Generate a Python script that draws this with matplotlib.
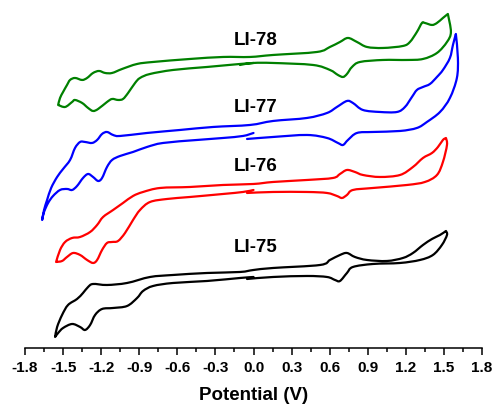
import numpy as np
import matplotlib
matplotlib.use("Agg")
import matplotlib.pyplot as plt
from matplotlib.path import Path
from matplotlib.patches import PathPatch
from matplotlib.ticker import MultipleLocator, FormatStrFormatter

plt.rcParams['font.family'] = ['Liberation Sans', 'DejaVu Sans']
plt.rcParams['font.weight'] = 'bold'

# cyclic voltammograms, current in arbitrary units relative to the 0 V level
# each scan: lower branch to the positive end, back along the upper branch,
# then the lower branch from the negative end back to 0 V

# LI-78
E78 = [-0.106, 0.0, 0.154, 0.469, 0.602, 0.665, 0.705, 0.736, 0.776, 0.839, 1.020, 1.209, 1.335, 1.445, 1.524, 1.555, 1.531,
       1.492, 1.445, 1.406, 1.350, 1.327, 1.287, 1.232, 1.177, 1.020, 0.894, 0.815, 0.744, 0.681, 0.602, 0.500, 0.154, -0.028,
       -0.240, -0.500, -0.791, -0.917, -1.035, -1.114, -1.169, -1.217, -1.264, -1.311, -1.350, -1.406, -1.445, -1.469, -1.500,
       -1.524, -1.539,
       -1.484, -1.429, -1.406, -1.350, -1.303, -1.264, -1.224, -1.154, -1.114, -1.067, -1.028, -0.988, -0.933, -0.894, -0.815,
       -0.634, -0.366, -0.106, 0.0]
I78 = [-0.2, 0.0, 0.0, -0.2, -0.7, -1.2, -1.4, -1.1, -0.4, 0.1, 0.3, 0.3, 0.4, 1.0, 2.1, 3.1, 4.9,
       4.5, 4.0, 3.8, 4.0, 4.0, 3.1, 2.1, 1.7, 1.5, 1.6, 2.1, 2.5, 2.1, 1.6, 1.1, 0.8, 0.6,
       0.6, 0.4, 0.1, -0.1, -0.6, -1.0, -1.0, -0.8, -1.0, -1.5, -1.7, -1.5, -1.7, -2.2, -2.9,
       -3.5, -4.2,
       -4.4, -3.9, -3.7, -4.0, -4.5, -4.8, -4.6, -3.9, -3.6, -3.7, -3.6, -3.0, -2.0, -1.5, -1.1,
       -0.7, -0.4, -0.1, 0.0]

# LI-77
E77 = [-0.051, 0.154, 0.421, 0.579, 0.665, 0.705, 0.744, 0.815, 0.941, 1.154, 1.287, 1.366, 1.469, 1.547, 1.602, 1.610, 1.594,
       1.571, 1.547, 1.492, 1.445, 1.390, 1.335, 1.287, 1.248, 1.193, 1.130, 0.996, 0.862, 0.783, 0.736, 0.657, 0.579, 0.421,
       0.154, -0.028, -0.319, -0.579, -0.839, -1.051, -1.106, -1.154, -1.193, -1.232, -1.272, -1.327, -1.366, -1.406, -1.445,
       -1.500, -1.547, -1.594, -1.626, -1.650, -1.665,
       -1.650, -1.618, -1.579, -1.524, -1.469, -1.429, -1.390, -1.343, -1.303, -1.264, -1.224, -1.193, -1.154, -1.114, -1.051,
       -0.949, -0.839, -0.713, -0.445, -0.240, -0.083, 0.0]
I77 = [-0.4, -0.2, 0.0, -0.3, -0.8, -1.0, -0.5, 0.2, 0.3, 0.4, 0.7, 1.3, 2.3, 3.7, 5.7, 7.7, 10.1,
       9.0, 7.7, 6.5, 5.8, 5.1, 4.8, 4.5, 3.8, 2.8, 2.3, 2.3, 2.5, 3.2, 3.4, 2.8, 2.2, 1.7,
       1.4, 1.0, 0.8, 0.5, 0.2, -0.1, 0.0, 0.3, 0.1, -0.5, -0.8, -0.7, -0.7, -1.3, -2.5,
       -3.4, -4.2, -5.3, -6.5, -7.5, -8.5,
       -7.7, -6.8, -6.1, -5.5, -5.4, -5.5, -5.1, -4.3, -3.9, -4.2, -4.6, -4.3, -3.2, -2.5, -2.1,
       -1.7, -1.2, -0.8, -0.5, -0.3, -0.1, 0.2]

# LI-76
E76 = [-0.051, 0.154, 0.421, 0.579, 0.657, 0.697, 0.736, 0.783, 0.941, 1.209, 1.350, 1.445, 1.492, 1.524, 1.516,
       1.492, 1.453, 1.406, 1.335, 1.256, 1.154, 0.996, 0.862, 0.799, 0.736, 0.681, 0.626, 0.421, 0.154, 0.0,
       -0.240, -0.500, -0.736, -0.870, -0.949, -1.028, -1.106, -1.185, -1.232, -1.287, -1.366, -1.429, -1.484, -1.524, -1.555,
       -1.508, -1.469, -1.421, -1.366, -1.311, -1.264, -1.232, -1.193, -1.154, -1.114, -1.067, -1.012, -0.949, -0.894, -0.815,
       -0.681, -0.500, -0.240, -0.083, 0.0]
I76 = [-0.3, -0.2, -0.2, -0.3, -0.6, -0.8, -0.5, 0.0, 0.2, 0.5, 0.8, 1.5, 2.8, 4.5, 5.2,
       5.0, 4.3, 3.7, 3.2, 2.3, 1.5, 1.3, 1.5, 1.8, 2.0, 1.6, 1.2, 1.0, 0.8, 0.6,
       0.5, 0.3, 0.2, -0.2, -0.6, -1.3, -2.0, -2.7, -3.5, -4.2, -4.7, -4.8, -5.2, -6.0, -7.2,
       -7.1, -6.7, -6.3, -6.5, -7.0, -7.3, -7.0, -6.0, -5.3, -5.2, -5.1, -4.3, -3.0, -2.0, -1.2,
       -0.9, -0.7, -0.4, -0.2, 0.0]

# LI-75
E75 = [-0.051, 0.154, 0.421, 0.579, 0.642, 0.681, 0.736, 0.783, 0.941, 1.154, 1.311, 1.413, 1.484, 1.524, 1.516,
       1.469, 1.406, 1.335, 1.256, 1.177, 1.051, 0.894, 0.799, 0.736, 0.681, 0.602, 0.524, 0.154, 0.0, -0.106,
       -0.366, -0.634, -0.815, -0.996, -1.154, -1.264, -1.303, -1.343, -1.390, -1.461, -1.508, -1.547, -1.563,
       -1.539, -1.500, -1.429, -1.366, -1.327, -1.287, -1.248, -1.193, -1.106, -0.996, -0.917, -0.870, -0.791, -0.634,
       -0.366, -0.106, 0.0]
I75 = [-0.2, 0.0, 0.1, 0.0, -0.3, -0.4, 0.4, 1.0, 1.3, 1.4, 1.7, 2.2, 3.2, 4.2, 4.6,
       4.2, 3.8, 3.2, 2.4, 1.9, 1.6, 1.7, 2.0, 2.4, 2.2, 1.7, 1.2, 0.9, 0.7, 0.5,
       0.4, 0.2, 0.0, -0.6, -0.8, -0.7, -1.0, -1.6, -2.2, -2.8, -3.8, -5.0, -6.0,
       -5.6, -5.1, -4.7, -5.0, -5.3, -4.8, -3.8, -3.2, -3.1, -2.9, -2.1, -1.4, -0.9, -0.6,
       -0.4, -0.1, 0.0]

names = ['LI-78', 'LI-77', 'LI-76', 'LI-75']
potentials = [E78, E77, E76, E75]
currents = [I78, I77, I76, I75]
offsets = [28.5, 21.3, 15.8, 7.1]
colors = ['#008000', '#0000ff', '#ff0000', '#000000']
label_y = [30.75, 24.0, 18.1, 10.05]


def spline_path(x, y, corners):
    # smooth connection (catmull-rom as cubic bezier), sharp at the scan reversal points
    pts = np.column_stack([x, y])
    n = len(pts)
    verts = [pts[0]]
    codes = [Path.MOVETO]
    for i in range(n - 1):
        p1, p2 = pts[i], pts[i + 1]
        p0 = p1 if (i == 0 or i in corners) else pts[i - 1]
        p3 = p2 if (i + 1 == n - 1 or i + 1 in corners) else pts[i + 2]
        verts += [p1 + (p2 - p0) / 6, p2 - (p3 - p1) / 6, p2]
        codes += [Path.CURVE4] * 3
    return Path(verts, codes)


fig = plt.figure(figsize=(4.98, 4.07), dpi=100)
ax = fig.add_axes([0.0502, 0.145, 0.9177, 0.8428])

for name, E, I, off, c, ly in zip(names, potentials, currents, offsets, colors, label_y):
    y = np.array(I) + off
    corners = {int(np.argmax(I)), int(np.argmin(E))}
    ax.add_patch(PathPatch(spline_path(E, y, corners), fill=False, edgecolor=c, lw=1.6,
                           joinstyle='round', capstyle='round'))
    ax.text(0.02, ly, name, ha='center', va='center', fontsize=13.5, fontweight='bold')

ax.set_xlim(-1.8, 1.8)
ax.set_ylim(0, 34.3)
ax.xaxis.set_major_locator(MultipleLocator(0.3))
ax.xaxis.set_minor_locator(MultipleLocator(0.15))
ax.xaxis.set_major_formatter(FormatStrFormatter('%.1f'))
ax.tick_params(axis='x', which='major', length=5, width=1.1, labelsize=11, pad=4.5)
ax.tick_params(axis='x', which='minor', length=3, width=1.1)
ax.set_yticks([])
for s in ['left', 'right', 'top']:
    ax.spines[s].set_visible(False)
ax.spines['bottom'].set_linewidth(1.1)
ax.set_xlabel('Potential (V)', fontsize=13.5, fontweight='bold', labelpad=8.5)
for lab in ax.get_xticklabels():
    lab.set_fontweight('bold')

fig.savefig('out.png', dpi=100)
